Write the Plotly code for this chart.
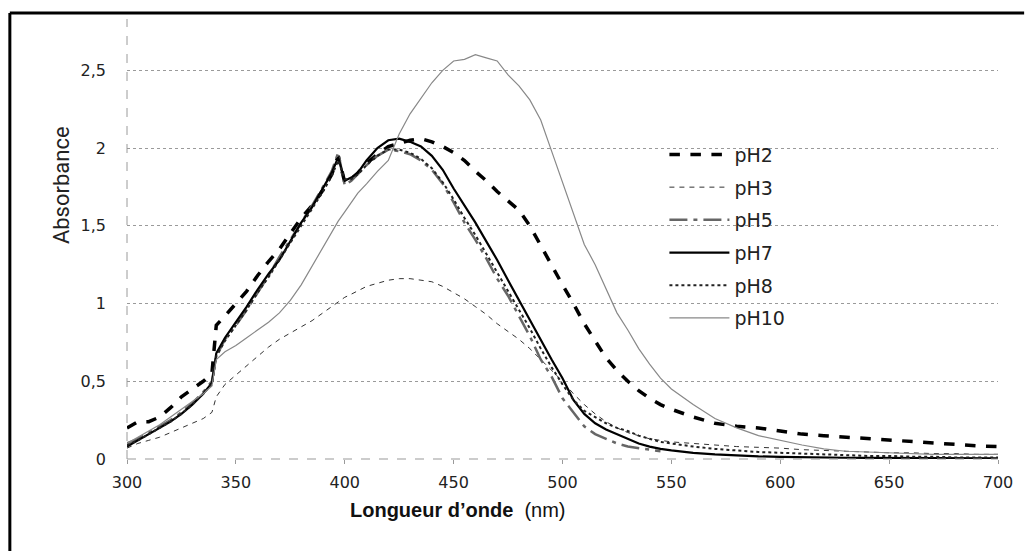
import plotly.graph_objects as go

wavelength = [300, 305, 310, 315, 320, 325, 330, 335, 339, 341, 345, 350, 355, 360, 365, 370, 375, 380, 385, 390,
              394, 397, 400, 403, 406, 410, 415, 420, 425, 430, 435, 440, 445, 450, 455, 460, 465, 470, 475, 480,
              485, 490, 495, 500, 505, 510, 515, 520, 525, 530, 535, 540, 545, 550, 560, 570, 580, 590, 600, 610,
              620, 630, 640, 650, 660, 670, 680, 690, 700]

ph2 = [0.20, 0.24, 0.24, 0.27, 0.33, 0.40, 0.45, 0.50, 0.55, 0.86, 0.92, 1.00, 1.08, 1.18, 1.27, 1.35, 1.45, 1.55, 1.63, 1.73,
       1.83, 1.95, 1.78, 1.80, 1.84, 1.90, 1.96, 2.01, 2.03, 2.05, 2.06, 2.04, 2.01, 1.97, 1.92, 1.85, 1.79, 1.72, 1.66, 1.60,
       1.50, 1.37, 1.24, 1.12, 1.00, 0.87, 0.76, 0.65, 0.57, 0.50, 0.44, 0.39, 0.35, 0.32, 0.27, 0.23, 0.21, 0.20, 0.18, 0.16,
       0.15, 0.14, 0.13, 0.12, 0.11, 0.10, 0.09, 0.085, 0.08]

ph3 = [0.07, 0.10, 0.12, 0.14, 0.17, 0.20, 0.23, 0.26, 0.30, 0.40, 0.48, 0.54, 0.60, 0.66, 0.72, 0.77, 0.81, 0.85, 0.89, 0.94,
       0.98, 1.01, 1.04, 1.06, 1.08, 1.11, 1.13, 1.15, 1.16, 1.16, 1.15, 1.14, 1.11, 1.07, 1.03, 0.98, 0.93, 0.87, 0.82, 0.77,
       0.71, 0.64, 0.57, 0.50, 0.42, 0.35, 0.29, 0.24, 0.20, 0.17, 0.15, 0.13, 0.12, 0.11, 0.10, 0.09, 0.08, 0.075, 0.07, 0.06,
       0.055, 0.05, 0.045, 0.04, 0.04, 0.035, 0.035, 0.03, 0.03]

ph5 = [0.10, 0.13, 0.17, 0.21, 0.25, 0.30, 0.36, 0.43, 0.50, 0.66, 0.77, 0.86, 0.96, 1.07, 1.18, 1.30, 1.41, 1.52, 1.63, 1.75,
       1.85, 1.97, 1.76, 1.79, 1.83, 1.89, 1.95, 1.99, 1.98, 1.96, 1.92, 1.86, 1.77, 1.65, 1.52, 1.41, 1.29, 1.16, 1.05, 0.92,
       0.79, 0.64, 0.53, 0.39, 0.30, 0.21, 0.16, 0.13, 0.10, 0.08, 0.07, 0.06, 0.05, None, None, None, None, None, None, None,
       None, None, None, None, None, None, None, None, None]

ph7 = [0.08, 0.12, 0.16, 0.20, 0.24, 0.29, 0.35, 0.42, 0.49, 0.68, 0.78, 0.88, 0.98, 1.09, 1.19, 1.28, 1.40, 1.52, 1.62, 1.74,
       1.84, 1.94, 1.79, 1.81, 1.84, 1.92, 2.00, 2.05, 2.06, 2.04, 2.01, 1.95, 1.86, 1.74, 1.63, 1.52, 1.40, 1.28, 1.15, 1.02,
       0.89, 0.77, 0.64, 0.52, 0.38, 0.29, 0.23, 0.19, 0.16, 0.13, 0.10, 0.08, 0.065, 0.055, 0.04, 0.03, 0.022, 0.017, 0.014, 0.011,
       0.009, 0.008, 0.007, 0.006, 0.005, 0.005, 0.004, 0.004, 0.004]

ph8 = [0.09, 0.12, 0.16, 0.20, 0.24, 0.29, 0.35, 0.42, 0.48, 0.66, 0.76, 0.86, 0.96, 1.07, 1.17, 1.28, 1.39, 1.50, 1.61, 1.72,
       1.82, 1.92, 1.80, 1.80, 1.83, 1.89, 1.95, 1.99, 1.99, 1.97, 1.93, 1.87, 1.78, 1.67, 1.55, 1.44, 1.32, 1.20, 1.08, 0.96,
       0.84, 0.71, 0.59, 0.48, 0.38, 0.31, 0.27, 0.23, 0.20, 0.18, 0.15, 0.13, 0.11, 0.10, 0.08, 0.065, 0.055, 0.045, 0.04, 0.035,
       0.03, 0.025, 0.02, 0.02, 0.015, 0.015, 0.01, 0.01, 0.01]

ph10 = [0.10, 0.14, 0.18, 0.22, 0.27, 0.32, 0.37, 0.42, 0.47, 0.64, 0.69, 0.73, 0.78, 0.83, 0.88, 0.94, 1.02, 1.12, 1.24, 1.36,
        1.46, 1.53, 1.59, 1.65, 1.71, 1.77, 1.85, 1.92, 2.09, 2.22, 2.32, 2.42, 2.50, 2.56, 2.57, 2.60, 2.58, 2.56, 2.47, 2.40,
        2.31, 2.18, 1.98, 1.78, 1.58, 1.38, 1.25, 1.10, 0.94, 0.83, 0.71, 0.61, 0.52, 0.45, 0.35, 0.26, 0.20, 0.15, 0.12, 0.09,
        0.065, 0.05, 0.045, 0.04, 0.035, 0.03, 0.03, 0.03, 0.03]

series = [
    ("pH2", ph2, dict(color="black", width=3.5, dash="dash")),
    ("pH3", ph3, dict(color="#333333", width=1, dash="5px,5px")),
    ("pH5", ph5, dict(color="#666666", width=2.5, dash="18px,6px,4px,6px")),
    ("pH7", ph7, dict(color="black", width=2.2)),
    ("pH8", ph8, dict(color="#222222", width=2, dash="dot")),
    ("pH10", ph10, dict(color="#888888", width=1.2)),
]

fig = go.Figure()
for name, vals, line in series:
    fig.add_trace(go.Scatter(x=wavelength, y=vals, name=name, mode="lines", line=line,
                             legendgroup=name, connectgaps=False))

axis_gray = "#9a9a9a"

fig.update_layout(
    width=1025, height=551,
    separators=", ",
    paper_bgcolor="white", plot_bgcolor="white",
    margin=dict(l=127, r=21, t=19, b=92),
    font=dict(family="DejaVu Sans, Verdana, sans-serif", size=16, color="#222222"),
    showlegend=True,
    legend=dict(x=0.617, y=0.735, xanchor="left", yanchor="top", bgcolor="rgba(0,0,0,0)",
                font=dict(family="DejaVu Sans, Verdana, sans-serif", size=19, color="#222222"),
                tracegroupgap=5, itemwidth=60),
    xaxis=dict(range=[300, 700], tickvals=[300, 350, 400, 450, 500, 550, 600, 650, 700],
               showgrid=False, zeroline=False, showline=False,
               ticks="outside", ticklen=4, tickcolor=axis_gray, ticklabelstandoff=5,
               tickfont=dict(size=16)),
    yaxis=dict(range=[0, 2.83], tickvals=[0, 0.5, 1, 1.5, 2, 2.5], showgrid=True,
               gridcolor=axis_gray, griddash="dot", gridwidth=1,
               zeroline=False, showline=False, ticklabelstandoff=20,
               tickfont=dict(size=16)),
    annotations=[
        dict(text="Absorbance", textangle=-90, xref="paper", yref="paper", x=-0.091, y=0.623,
             showarrow=False, font=dict(family="Liberation Sans Narrow, Roboto, sans-serif", size=22, color="#222222")),
        dict(text="<b>Longueur d’onde</b>  (nm)", xref="paper", yref="paper", x=0.38, y=-0.115,
             showarrow=False, yanchor="middle",
             font=dict(family="Liberation Sans, Arial, sans-serif", size=20, color="#111111")),
    ],
    shapes=[
        dict(type="line", xref="x domain", yref="y domain", x0=0, x1=0, y0=0, y1=1,
             line=dict(color=axis_gray, width=1, dash="dash")),
        dict(type="line", xref="x domain", yref="y domain", x0=0, x1=1, y0=0, y1=0,
             line=dict(color=axis_gray, width=1.2, dash="dash")),
        dict(type="line", xref="paper", yref="paper", x0=-0.1345, x1=1.03, y0=1.0136, y1=1.0136,
             line=dict(color="black", width=3)),
        dict(type="line", xref="paper", yref="paper", x0=-0.1345, x1=-0.1345, y0=1.0136, y1=-0.22,
             line=dict(color="black", width=3)),
    ],
)

fig.write_html("out.html", config={"displayModeBar": False},
               post_script="document.body.style.margin='0';document.body.style.overflow='hidden';")
